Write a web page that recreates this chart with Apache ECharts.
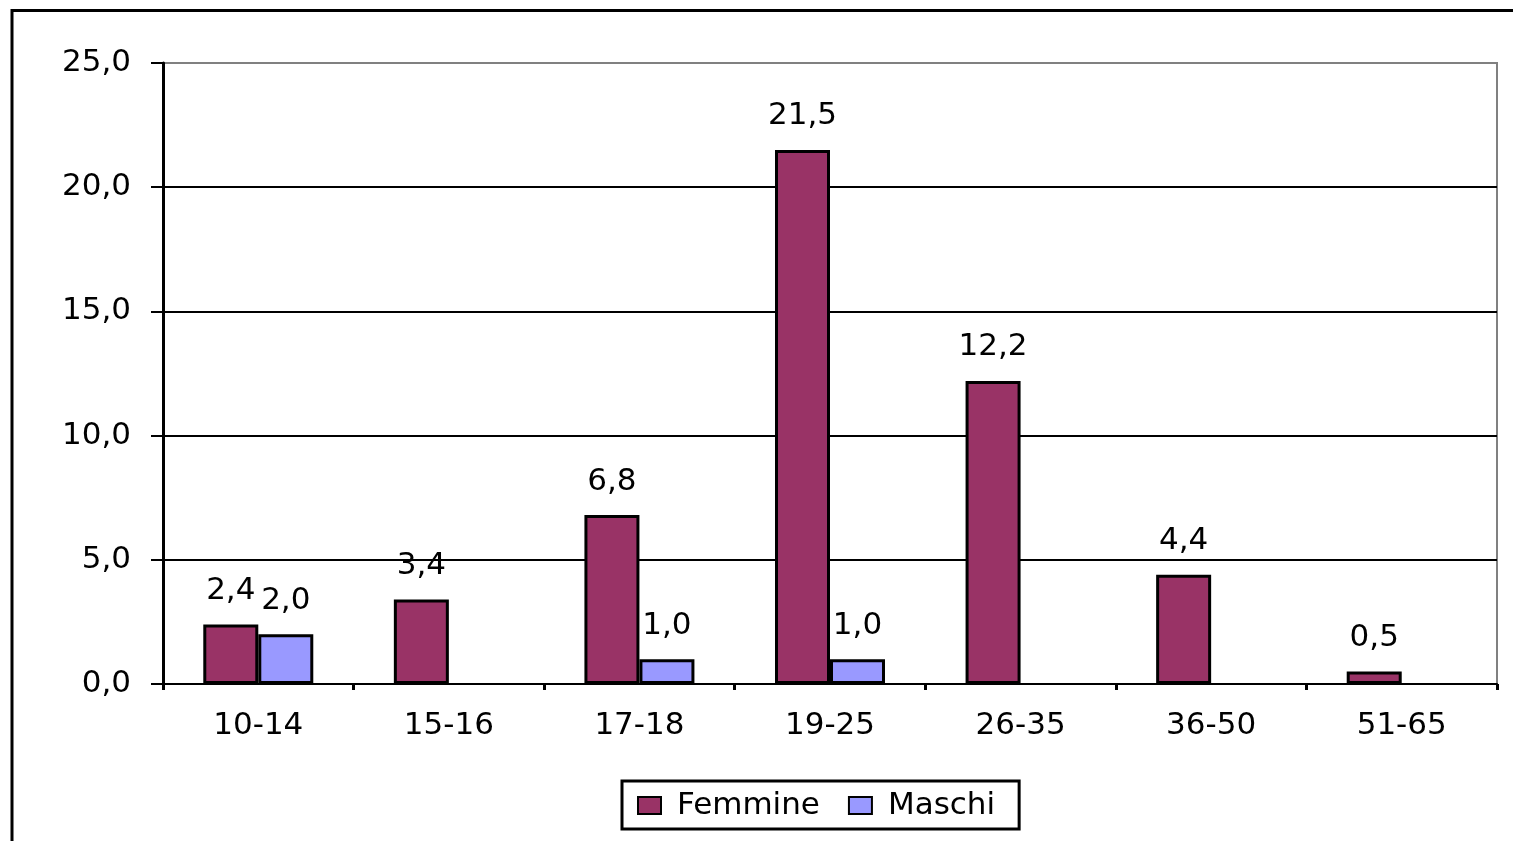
<!DOCTYPE html>
<html>
<head>
<meta charset="utf-8">
<script src="https://cdn.jsdelivr.net/npm/echarts@6/dist/echarts.min.js"></script>
<style>
  html, body { margin: 0; padding: 0; background: #fff; }
  #chart { width: 1513px; height: 841px; }
</style>
</head>
<body>
<div id="chart"></div>
<script>
const categories = ['10-14', '15-16', '17-18', '19-25', '26-35', '36-50', '51-65'];
const femmine = [2.4, 3.4, 6.8, 21.5, 12.2, 4.4, 0.5];
const maschi = [2.0, null, 1.0, 1.0, null, null, null];

const fmt = (v) => v.toFixed(1).replace('.', ',');
const font = 'DejaVu Sans';
const fs = 31;

const chart = echarts.init(document.getElementById('chart'));

const barLabel = {
  show: true,
  position: 'top',
  distance: 18,
  color: '#000',
  fontFamily: font,
  fontSize: fs,
  formatter: (p) => fmt(p.value)
};

chart.setOption({
  animation: false,
  textStyle: { fontFamily: font },
  graphic: [{
    type: 'rect',
    shape: { x: 12, y: 10.5, width: 1700, height: 1000 },
    style: { fill: 'none', stroke: '#000', lineWidth: 3 },
    silent: true
  }],
  grid: {
    left: 163, top: 63, right: 16, bottom: 157,
    show: true,
    borderColor: '#808080',
    borderWidth: 2
  },
  legend: {
    left: 622, top: 781,
    padding: [9, 24, 8, 15],
    borderColor: '#000',
    borderWidth: 3,
    itemWidth: 23,
    itemHeight: 17,
    itemGap: 28,
    icon: 'rect',
    textStyle: { color: '#000', fontFamily: font, fontSize: fs, padding: [0, 0, 0, 11] },
    data: ['Femmine', 'Maschi']
  },
  xAxis: {
    type: 'category',
    data: categories,
    axisLine: { lineStyle: { color: '#000', width: 2 } },
    axisTick: { show: true, length: 6, lineStyle: { color: '#000', width: 3 } },
    axisLabel: { color: '#000', fontSize: fs, fontFamily: font, margin: 26 }
  },
  yAxis: {
    type: 'value',
    min: 0, max: 25, interval: 5,
    axisLine: { show: true, lineStyle: { color: '#000', width: 3 } },
    axisTick: { show: true, length: 12, lineStyle: { color: '#000', width: 2 } },
    axisLabel: { color: '#000', fontSize: fs, fontFamily: font, margin: 32, formatter: (v) => fmt(v) },
    splitLine: { lineStyle: { color: ['#000', '#000', '#000', '#000', '#000', '#808080'], width: 2 } }
  },
  series: [
    {
      name: 'Femmine',
      type: 'bar',
      data: femmine,
      barWidth: 55,
      barGap: '0%',
      itemStyle: { color: '#993366', borderColor: '#000', borderWidth: 3 },
      label: barLabel
    },
    {
      name: 'Maschi',
      type: 'bar',
      data: maschi,
      barWidth: 55,
      barGap: '0%',
      itemStyle: { color: '#9999FF', borderColor: '#000', borderWidth: 3 },
      label: barLabel
    }
  ]
});
</script>
</body>
</html>
